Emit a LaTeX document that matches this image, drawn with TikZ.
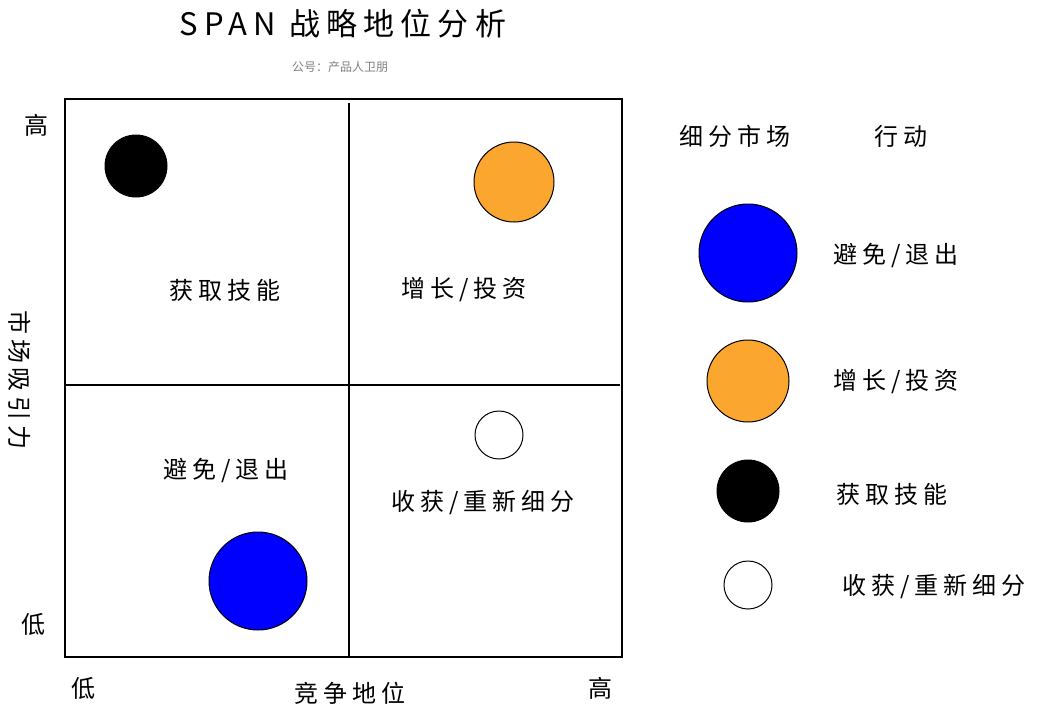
\documentclass[tikz,border=0pt]{standalone}
\usepackage{fontspec}
\newfontfamily\cjk{Noto Sans CJK SC}
\newfontfamily\cjkwide[LetterSpace=20]{Noto Sans CJK SC}
\definecolor{orangedot}{HTML}{FBA62F}
\tikzset{
  dot/.style={circle,draw=black,line width=1pt,inner sep=0pt},
  lbl/.style={font=\cjkwide\fontsize{24}{24}\selectfont},
}
\begin{document}
\begin{tikzpicture}[x=1pt,y=-1pt]
  \useasboundingbox (0,0) rectangle (1062,715);
  % title
  \node[font=\cjkwide\fontsize{31}{31}\selectfont] (title) at (343,24) {SPAN 战略地位分析};
  \node[font=\cjk\fontsize{12}{12}\selectfont,text=gray] (sub) at (340,67) {公号：产品人卫朋};
  % matrix
  \draw[line width=1.2pt] (65,99) rectangle (622,657);
  \coordinate (vt) at (349,103);
  \coordinate (vb) at (349,657);
  \coordinate (hl) at (65,385);
  \coordinate (hr) at (620,385);
  \draw[line width=1.2pt] (vt) -- (vb);
  \draw[line width=1.2pt] (hl) -- (hr);
  \node[dot,fill=black,minimum size=62] (acq) at (136,166) {};
  \node[dot,fill=orangedot,minimum size=80] (grow) at (514,182) {};
  \node[dot,fill=white,minimum size=48] (harv) at (499,435) {};
  \node[dot,fill=blue,minimum size=98] (avoid) at (258,581) {};
  \node[lbl] (tacq) at (225,290) {获取技能};
  \node[lbl] (tgrow) at (464,290) {增长/投资};
  \node[lbl] (tavoid) at (226,471) {避免/退出};
  \node[lbl] (tharv) at (483,503) {收获/重新细分};
  % axes
  \node[lbl] (yhi) at (36,125) {高};
  \node[lbl] (ylo) at (33,624) {低};
  \node[lbl,rotate=-90] (ylab) at (20,380) {市场吸引力};
  \node[lbl] (xlo) at (83,688) {低};
  \node[lbl] (xlab) at (350,693) {竞争地位};
  \node[lbl] (xhi) at (600,688) {高};
  % legend
  \node[lbl] (lseg) at (735,136) {细分市场};
  \node[lbl] (lact) at (901,136) {行动};
  \node[dot,fill=blue,minimum size=98] (la) at (748,253) {};
  \node[dot,fill=orangedot,minimum size=82] (lg) at (748,381) {};
  \node[dot,fill=black,minimum size=62] (lq) at (748,491) {};
  \node[dot,fill=white,minimum size=48] (lh) at (748,585) {};
  \node[lbl] (ta) at (896,256) {避免/退出};
  \node[lbl] (tg) at (896,382) {增长/投资};
  \node[lbl] (tq) at (892,494) {获取技能};
  \node[lbl] (th) at (934,587) {收获/重新细分};
\end{tikzpicture}
\end{document}
